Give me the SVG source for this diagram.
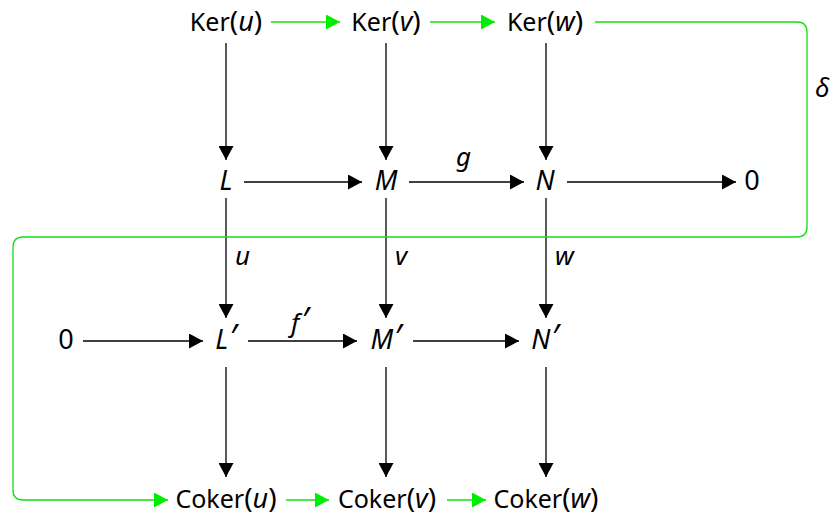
<svg xmlns="http://www.w3.org/2000/svg" width="833" height="517" viewBox="0 0 833 517">
<style>
text{font-family:"Noto Sans","Open Sans",sans-serif;font-size:25px;fill:#000;text-anchor:middle}
.i{font-style:italic;font-size:27px}
.p{font-size:28px}
.pr{font-size:34px}
.lab{font-style:italic;text-anchor:start;font-size:26px}
.z{font-size:27px}
.b{stroke:#000;stroke-width:1.3;fill:none;marker-end:url(#ab)}
.g{stroke:#11e011;stroke-width:1.3;fill:none;marker-end:url(#ag)}
</style>
<defs>
<marker id="ab" markerUnits="userSpaceOnUse" markerWidth="15" markerHeight="15" refX="14" refY="7.5" orient="auto"><path d="M0,0 L14,7.5 L0,15 z" fill="#000"/></marker>
<marker id="ag" markerUnits="userSpaceOnUse" markerWidth="15" markerHeight="15" refX="14" refY="7.5" orient="auto"><path d="M0,0 L14,7.5 L0,15 z" fill="#00ee00"/></marker>
</defs>
<rect width="833" height="517" fill="#fff"/>
<g id="connectors">
<line class="b" x1="226" y1="43" x2="226" y2="160"/>
<line class="b" x1="386" y1="43" x2="386" y2="160"/>
<line class="b" x1="546" y1="43" x2="546" y2="160"/>
<line class="b" x1="226" y1="198" x2="226" y2="318"/>
<line class="b" x1="386" y1="198" x2="386" y2="318"/>
<line class="b" x1="546" y1="198" x2="546" y2="318"/>
<line class="b" x1="226" y1="367" x2="226" y2="477"/>
<line class="b" x1="386" y1="367" x2="386" y2="477"/>
<line class="b" x1="546" y1="367" x2="546" y2="477"/>
<line class="b" x1="244" y1="182" x2="362" y2="182"/>
<line class="b" x1="409" y1="182" x2="524" y2="182"/>
<line class="b" x1="567" y1="182" x2="736" y2="182"/>
<line class="b" x1="83" y1="341" x2="203" y2="341"/>
<line class="b" x1="248" y1="341" x2="357" y2="341"/>
<line class="b" x1="413" y1="341" x2="519" y2="341"/>
<line class="g" x1="271" y1="22" x2="340" y2="22"/>
<line class="g" x1="430" y1="22" x2="495" y2="22"/>
<path class="g" d="M595,22 H797 Q807,22 807,32 V227 Q807,237 797,237 H23 Q13,237 13,247 V490 Q13,500 23,500 H168"/>
<line class="g" x1="286" y1="500" x2="329" y2="500"/>
<line class="g" x1="447" y1="500" x2="486" y2="500"/>
<text class="lab" x="456" y="166">g</text>
<text class="lab" x="291" y="332">f<tspan class="pr" dx="2">′</tspan></text>
<text class="lab" x="235" y="265">u</text>
<text class="lab" x="395" y="265">v</text>
<text class="lab" x="555" y="265">w</text>
<text class="lab" x="815" y="97">δ</text>
</g>
<g id="ker-u"><text x="226" y="31">Ker<tspan class="p">(</tspan><tspan class="i">u</tspan><tspan class="p">)</tspan></text></g>
<g id="ker-v"><text x="386" y="31">Ker<tspan class="p">(</tspan><tspan class="i">v</tspan><tspan class="p">)</tspan></text></g>
<g id="ker-w"><text x="545" y="31">Ker<tspan class="p">(</tspan><tspan class="i">w</tspan><tspan class="p">)</tspan></text></g>
<g id="L"><text class="i" x="226" y="190">L</text></g>
<g id="M"><text class="i" x="386" y="190">M</text></g>
<g id="N"><text class="i" x="545" y="190">N</text></g>
<g id="zero-right"><text class="z" x="752" y="190">0</text></g>
<g id="zero-left"><text class="z" x="66" y="349">0</text></g>
<g id="Lp"><text class="i" x="226" y="349">L<tspan class="pr" dx="1">′</tspan></text></g>
<g id="Mp"><text class="i" x="386" y="349">M<tspan class="pr" dx="1">′</tspan></text></g>
<g id="Np"><text class="i" x="545" y="349">N<tspan class="pr" dx="1">′</tspan></text></g>
<g id="coker-u"><text x="226" y="508">Coker<tspan class="p">(</tspan><tspan class="i">u</tspan><tspan class="p">)</tspan></text></g>
<g id="coker-v"><text x="387" y="508">Coker<tspan class="p">(</tspan><tspan class="i">v</tspan><tspan class="p">)</tspan></text></g>
<g id="coker-w"><text x="546" y="508">Coker<tspan class="p">(</tspan><tspan class="i">w</tspan><tspan class="p">)</tspan></text></g>
</svg>
